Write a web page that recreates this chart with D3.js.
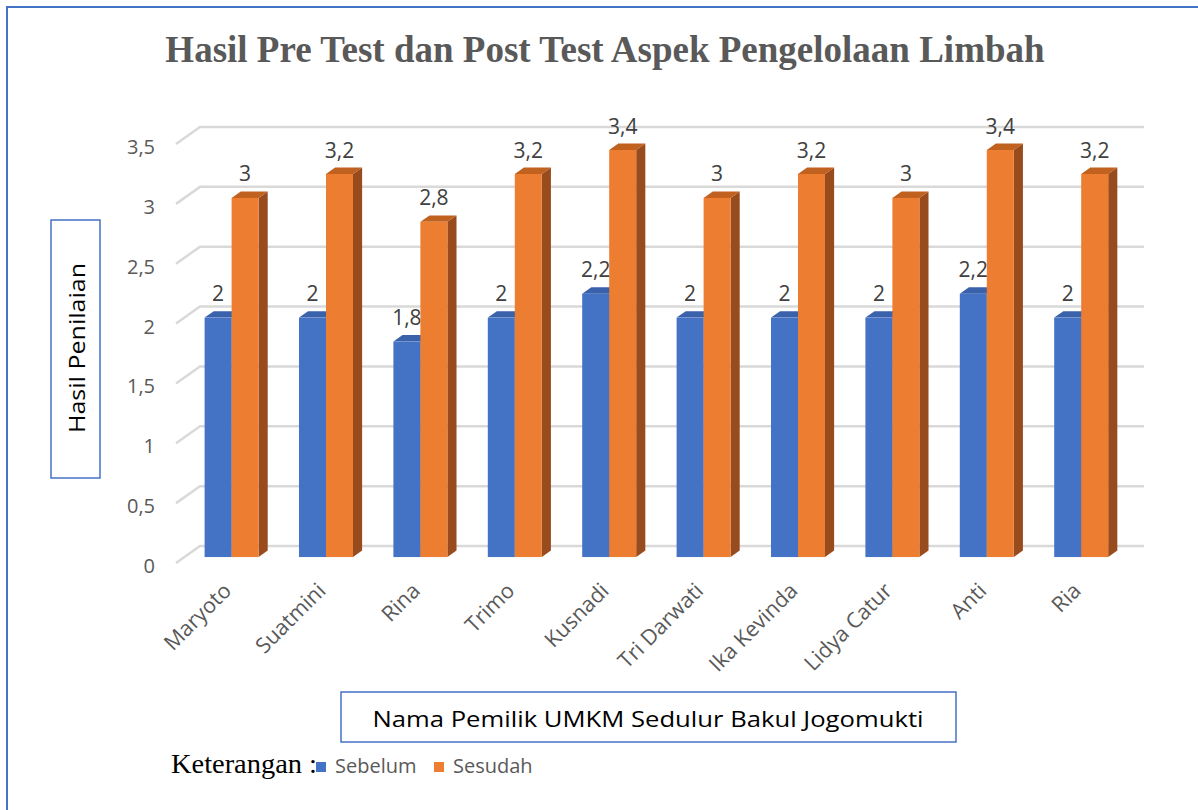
<!DOCTYPE html>
<html>
<head>
<meta charset="utf-8">
<script src="https://cdn.jsdelivr.net/npm/d3@7"></script>
<style>
  body { margin: 0; background: #fff; }
  svg { display: block; }
</style>
</head>
<body>
<div id="chart"></div>
<script>
    // data
    const names = ["Maryoto", "Suatmini", "Rina", "Trimo", "Kusnadi", "Tri Darwati", "Ika Kevinda", "Lidya Catur", "Anti", "Ria"];
    const series = ["Sebelum", "Sesudah"];
    const sebelum = [2, 2, 1.8, 2, 2.2, 2, 2, 2, 2.2, 2];
    const sesudah = [3, 3.2, 2.8, 3.2, 3.4, 3, 3.2, 3, 3.4, 3.2];
    const yTicks = [0, 0.5, 1, 1.5, 2, 2.5, 3, 3.5];

    const W = 1198, H = 810;
    const sans = "'Open Sans', Carlito, Calibri, sans-serif";
    const serif = "'Liberation Serif', 'Times New Roman', serif";

    // depth vector from the front edge of the floor to the back wall
    const depth = {dx: 24, dy: -17};
    const d1 = 0.35, d2 = 0.73;   // front / back of the bars

    const colors = {
        Sebelum: {front: "#4472C4", top: "#3A62AB", side: "#2F5597"},
        Sesudah: {front: "#ED7D31", top: "#C0611F", side: "#984B1C"}
    };

    const svg = d3.select("#chart").append("svg")
        .attr("width", W)
        .attr("height", H);

    // outer frame (right & bottom are out of the picture)
    svg.append("rect")
        .attr("x", 7).attr("y", 7)
        .attr("width", W + 20).attr("height", H + 20)
        .attr("fill", "none")
        .attr("stroke", "#4472C4")
        .attr("stroke-width", 2);

    const x = d3.scaleBand()
        .domain(names)
        .range([176, 1120])
        .paddingInner(0.428)
        .paddingOuter(0.214);
    const xs = d3.scaleBand()
        .domain(series)
        .range([0, x.bandwidth()]);
    const y = d3.scaleLinear()
        .domain([0, 3.5])
        .range([563, 144]);

    function proj(px, v, d) {
        return [px + d * depth.dx, y(v) + d * depth.dy];
    }
    const pts = arr => arr.map(p => p.join(",")).join(" ");

    // gridlines: short diagonal on the side + line along the back wall
    const grid = svg.append("g");
    yTicks.forEach(t => {
        const a = proj(x.range()[0], t, 0),
            b = proj(x.range()[0], t, 1),
            c = proj(x.range()[1], t, 1);
        grid.append("polyline")
            .attr("points", pts([a, b, c]))
            .attr("fill", "none")
            .attr("stroke", "#d9d9d9")
            .attr("stroke-width", 2.5);
    });

    svg.append("g")
        .selectAll("text")
        .data(yTicks)
        .join("text")
        .attr("x", 155)
        .attr("y", d => y(d) + 3)
        .attr("dy", "0.35em")
        .attr("text-anchor", "end")
        .attr("font-family", sans)
        .attr("font-size", 20)
        .attr("fill", "#595959")
        .text(d => String(d).replace(".", ","));

    // bars
    const rows = names.map((n, i) => ({name: n, Sebelum: sebelum[i], Sesudah: sesudah[i]}));
    const bars = svg.append("g");
    rows.forEach(r => {
        series.forEach(s => {
            const v = r[s];
            const x0 = x(r.name) + xs(s), x1 = x0 + xs.bandwidth();
            const g = bars.append("g");
            g.append("polygon")
                .attr("points", pts([proj(x1, v, d1), proj(x1, v, d2), proj(x1, 0, d2), proj(x1, 0, d1)]))
                .attr("fill", colors[s].side);
            g.append("polygon")
                .attr("points", pts([proj(x0, v, d1), proj(x0, v, d2), proj(x1, v, d2), proj(x1, v, d1)]))
                .attr("fill", colors[s].top);
            const f0 = proj(x0, v, d1), f1 = proj(x1, 0, d1);
            g.append("rect")
                .attr("x", f0[0]).attr("y", f0[1])
                .attr("width", f1[0] - f0[0])
                .attr("height", f1[1] - f0[1])
                .attr("fill", colors[s].front);
            const lab = proj((x0 + x1) / 2, v, d2);
            g.append("text")
                .attr("x", lab[0] - (d2 - d1) * depth.dx)
                .attr("y", lab[1] - 10)
                .attr("text-anchor", "middle")
                .attr("font-family", sans)
                .attr("font-size", 21)
                .attr("fill", "#404040")
                .text(String(v).replace(".", ","));
        });
    });

    // category labels, rotated
    svg.append("g")
        .selectAll("text")
        .data(names)
        .join("text")
        .attr("transform", d => {
            const p = proj(x(d) + x.bandwidth() / 2, 0, d1);
            return `translate(${p[0] + 1},${p[1] + 35}) rotate(-45)`;
        })
        .attr("text-anchor", "end")
        .attr("font-family", sans)
        .attr("font-size", 21.5)
        .attr("fill", "#595959")
        .text(d => d);

    // title
    svg.append("text")
        .attr("x", 605)
        .attr("y", 62)
        .attr("text-anchor", "middle")
        .attr("font-family", serif)
        .attr("font-weight", "bold")
        .attr("font-size", 37)
        .attr("fill", "#595959")
        .text("Hasil Pre Test dan Post Test Aspek Pengelolaan Limbah");

    // y axis title box
    svg.append("rect")
        .attr("x", 51).attr("y", 220)
        .attr("width", 49).attr("height", 258)
        .attr("fill", "#fff")
        .attr("stroke", "#4472C4")
        .attr("stroke-width", 1.5);
    svg.append("text")
        .attr("transform", "translate(85,348) rotate(-90)")
        .attr("text-anchor", "middle")
        .attr("font-family", sans)
        .attr("font-size", 22)
        .attr("textLength", 170)
        .attr("lengthAdjust", "spacingAndGlyphs")
        .attr("fill", "#000")
        .text("Hasil Penilaian");

    // x axis title box
    svg.append("rect")
        .attr("x", 341).attr("y", 692)
        .attr("width", 615).attr("height", 50)
        .attr("fill", "#fff")
        .attr("stroke", "#4472C4")
        .attr("stroke-width", 1.5);
    svg.append("text")
        .attr("x", 648)
        .attr("y", 727)
        .attr("text-anchor", "middle")
        .attr("font-family", sans)
        .attr("font-size", 22)
        .attr("textLength", 551)
        .attr("lengthAdjust", "spacingAndGlyphs")
        .attr("fill", "#000")
        .text("Nama Pemilik UMKM Sedulur Bakul Jogomukti");

    // legend
    svg.append("text")
        .attr("x", 171)
        .attr("y", 773)
        .attr("font-family", serif)
        .attr("font-size", 27)
        .attr("textLength", 146)
        .attr("lengthAdjust", "spacingAndGlyphs")
        .attr("fill", "#000")
        .text("Keterangan :");
    const legX = [316, 434];
    const leg = svg.append("g")
        .selectAll("g")
        .data(series)
        .join("g")
        .attr("transform", (d, i) => `translate(${legX[i]},762)`);
    leg.append("rect")
        .attr("width", 10).attr("height", 10)
        .attr("fill", d => colors[d].front);
    leg.append("text")
        .attr("x", 19)
        .attr("y", 10.5)
        .attr("font-family", sans)
        .attr("font-size", 20)
        .attr("fill", "#595959")
        .text(d => d);
</script>
</body>
</html>
